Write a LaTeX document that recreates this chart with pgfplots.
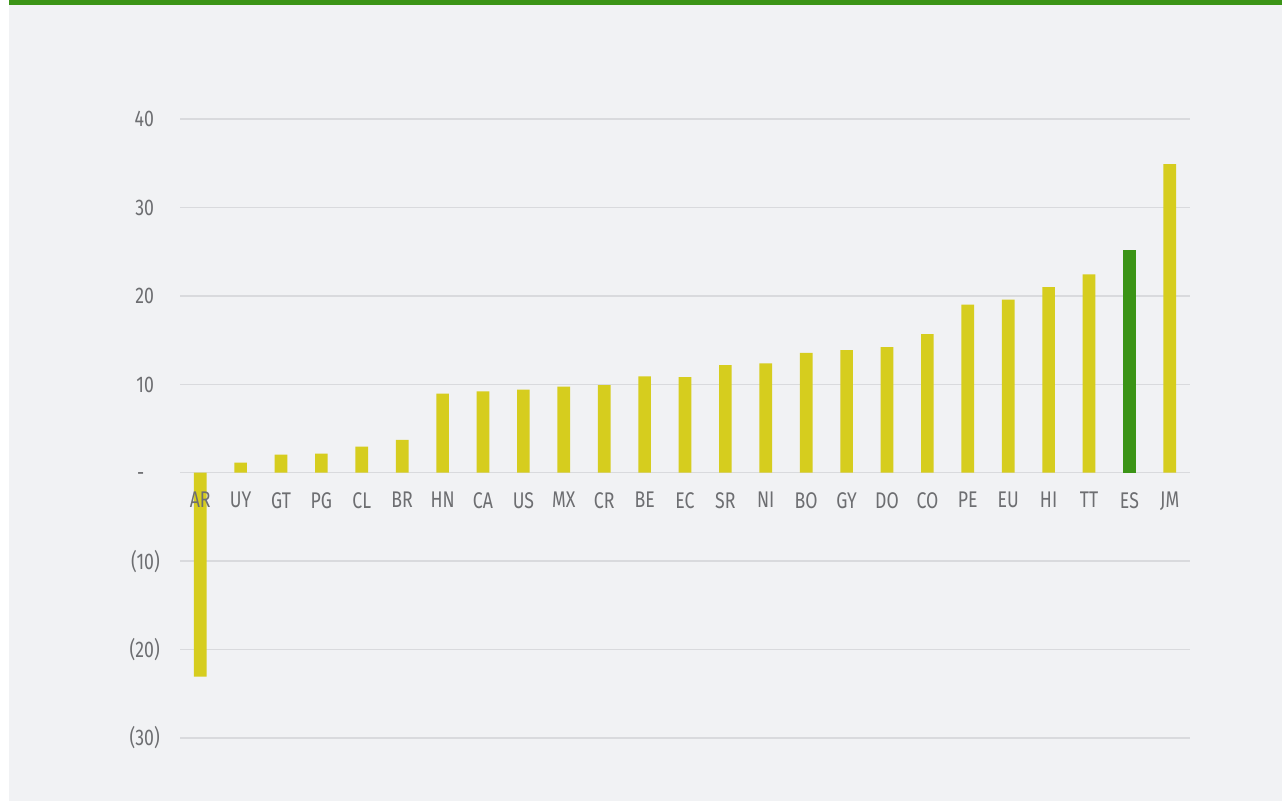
\documentclass[border=0pt]{standalone}
\usepackage{pgfplots}
\pgfplotsset{compat=1.18}
\usepackage{fontspec}
\setmainfont{Fira Sans}[FakeStretch=0.78]

\definecolor{panel}{HTML}{F1F2F4}
\definecolor{gridc}{HTML}{D9DADD}
\definecolor{barY}{HTML}{D6CD1E}
\definecolor{barG}{HTML}{3B9416}
\definecolor{labc}{HTML}{6D6E71}

% bars above the grid, tick labels above the bars
\pgfplotsset{
  layers/labelsontop/.define layer set={
    axis background,axis grid,main,axis ticks,axis lines,axis tick labels,axis descriptions,axis foreground
  }{
    grid style={/pgfplots/on layer=axis grid},
    tick style={/pgfplots/on layer=axis ticks},
    axis line style={/pgfplots/on layer=axis lines},
    label style={/pgfplots/on layer=axis descriptions},
    legend style={/pgfplots/on layer=axis descriptions},
    title style={/pgfplots/on layer=axis descriptions},
    ticklabel style={/pgfplots/on layer=axis tick labels},
    axis background@ style={/pgfplots/on layer=axis background},
  },
}

\begin{document}
\begin{tikzpicture}
\begin{axis}[
  set layers=labelsontop,
  at={(135pt,47.25pt)}, anchor=south west,
  scale only axis,
  width=757.5pt, height=464.25pt,
  xmin=-0.5, xmax=24.5,
  ymin=-30, ymax=40,
  axis x line*=middle,
  axis y line*=left,
  axis line style={draw=none},
  major tick length=0pt,
  tick style={draw=none},
  ytick={-30,-20,-10,0,10,20,30,40},
  yticklabels={(30),(20),(10),-\phantom{0)},10\phantom{)},20\phantom{)},30\phantom{)},40\phantom{)}},
  ymajorgrids,
  grid style={gridc, line width=1.1pt},
  xtick={0,...,24},
  xticklabels={AR,UY,GT,PG,CL,BR,HN,CA,US,MX,CR,BE,EC,SR,NI,BO,GY,DO,CO,PE,EU,HI,TT,ES,JM},
  ticklabel style={font=\fontsize{17}{19}\selectfont, text=labc, inner sep=0pt},
  xticklabel style={anchor=north, yshift=-14.5pt},
  yticklabel style={anchor=east, xshift=-15pt},
  ybar, bar width=9.5pt,
  every axis plot/.append style={bar shift=0pt, draw=none},
  clip=false,
]
% page background: white strip at left, grey panel, green band on top
\begin{pgfonlayer}{axis background}
\fill[white] ([xshift=-135pt,yshift=-47.25pt]rel axis cs:0,0) rectangle ([xshift=69pt,yshift=89.25pt]rel axis cs:1,1);
\fill[panel] ([xshift=-128.25pt,yshift=-47.25pt]rel axis cs:0,0) rectangle ([xshift=69pt,yshift=85.5pt]rel axis cs:1,1);
\fill[barG] ([xshift=-128.25pt,yshift=85.5pt]rel axis cs:0,1) rectangle ([xshift=69pt,yshift=89.25pt]rel axis cs:1,1);
\end{pgfonlayer}

\addplot[fill=barY] coordinates {
  (0,-23.05) (1,1.15) (2,2.05) (3,2.16) (4,2.95) (5,3.7)
  (6,8.95) (7,9.21) (8,9.4) (9,9.74) (10,9.9) (11,10.9) (12,10.8)
  (13,12.16) (14,12.36) (15,13.56) (16,13.86) (17,14.2) (18,15.68)
  (19,19.0) (20,19.58) (21,20.98) (22,22.42) (24,34.9)
};
\addplot[fill=barG] coordinates {(23,25.2)};
\end{axis}
\end{tikzpicture}
\end{document}
